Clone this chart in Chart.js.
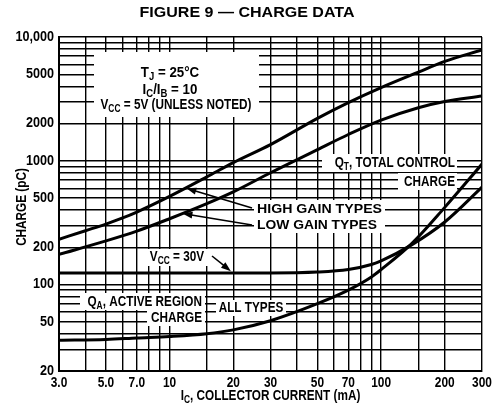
<!DOCTYPE html>
<html>
<head>
<meta charset="utf-8">
<script src="https://cdn.jsdelivr.net/npm/chart.js@4.4.0/dist/chart.umd.min.js"></script>
<style>
  html, body { margin: 0; padding: 0; background: #fff; }
  canvas { display: block; }
</style>
</head>
<body>
<canvas id="chart" width="494" height="415"></canvas>
<script>
// collector current (mA) and charge (pC)
const highGainCurrent = [3, 4, 5, 6, 7, 10, 15, 20, 30, 50, 70, 100, 150, 200, 300];
const highGainCharge  = [232, 272, 308, 345, 385, 515, 740, 965, 1350, 2200, 2950, 3900, 5200, 6350, 7850];
const lowGainCurrent  = [3, 5, 7, 10, 15, 20, 30, 50, 70, 100, 150, 200, 300];
const lowGainCharge   = [175, 225, 270, 340, 450, 560, 800, 1230, 1630, 2130, 2680, 3010, 3330];
const vcc30Current    = [3, 10, 20, 30, 50, 70, 90, 100, 140, 200, 300];
const vcc30Charge     = [124, 124, 124, 124, 126, 132, 145, 155, 210, 320, 612];
const activeCurrent   = [3, 5, 7, 10, 15, 20, 30, 50, 70, 90, 100, 140, 200, 300];
const activeCharge    = [35.5, 36, 37, 38, 40, 43, 51, 70, 90, 115, 132, 215, 420, 940];

const xTickValues = [3, 4, 5, 6, 7, 8, 9, 10, 15, 20, 30, 40, 50, 60, 70, 80, 90, 100, 150, 200, 300];
const xTickLabels = ['3.0', '', '5.0', '', '7.0', '', '', '10', '', '20', '30', '', '50', '', '70', '', '', '100', '', '200', '300'];
const yTickValues = [20, 30, 40, 50, 60, 70, 80, 90, 100, 200, 300, 400, 500, 600, 700, 800, 900,
                     1000, 2000, 3000, 4000, 5000, 6000, 7000, 8000, 9000, 10000];
const yTickLabels = ['20', '', '', '50', '', '', '', '', '100', '200', '', '', '500', '', '', '', '',
                     '1000', '2000', '', '', '5000', '', '', '', '', '10,000'];

const FONT = '"Liberation Sans", Arial, sans-serif';
const SQUEEZE = 0.84;

function pts(xs, ys) {
  return xs.map((x, i) => ({ x: x, y: ys[i] }));
}

function curve(xs, ys) {
  return {
    data: pts(xs, ys),
    borderColor: '#000',
    borderWidth: 3,
    pointRadius: 0,
    cubicInterpolationMode: 'monotone',
    fill: false
  };
}

// draw bold text made of [string, isSubscript] parts, squeezed/stretched to a width
function rich(ctx, parts, x, y, size, align, width, hs) {
  const subSize = Math.round(size * 0.72);
  let w = 0;
  parts.forEach(p => {
    ctx.font = 'bold ' + (p[1] ? subSize : size) + 'px ' + FONT;
    w += ctx.measureText(p[0]).width;
  });
  const k = width ? width / w : (hs || 1);
  const tw = w * k;
  const left = align === 'center' ? x - tw / 2 : (align === 'right' ? x - tw : x);
  ctx.save();
  ctx.translate(left, y);
  ctx.scale(k, 1);
  ctx.textAlign = 'left';
  ctx.textBaseline = 'middle';
  ctx.fillStyle = '#000';
  let cx = 0;
  parts.forEach(p => {
    ctx.font = 'bold ' + (p[1] ? subSize : size) + 'px ' + FONT;
    ctx.fillText(p[0], cx, p[1] ? size * 0.32 : 0);
    cx += ctx.measureText(p[0]).width;
  });
  ctx.restore();
}

function arrow(ctx, x1, y1, x2, y2) {
  const a = Math.atan2(y2 - y1, x2 - x1);
  const c = Math.cos(a), s = Math.sin(a);
  ctx.strokeStyle = '#000';
  ctx.fillStyle = '#000';
  ctx.lineWidth = 1.6;
  ctx.beginPath();
  ctx.moveTo(x1, y1);
  ctx.lineTo(x2 - 6 * c, y2 - 6 * s);
  ctx.stroke();
  ctx.beginPath();
  ctx.moveTo(x2, y2);
  ctx.lineTo(x2 - 10 * c + 3.5 * s, y2 - 10 * s - 3.5 * c);
  ctx.lineTo(x2 - 10 * c - 3.5 * s, y2 - 10 * s + 3.5 * c);
  ctx.closePath();
  ctx.fill();
}

// white patches where the printed labels break the grid
const labelBoxes = [
  [94, 52, 165, 65],
  [322, 154, 135, 18],
  [398, 173, 59, 17],
  [254, 200, 131, 33],
  [143, 249, 70, 17],
  [80, 293, 125, 17],
  [147, 310, 58, 16],
  [216, 300, 70, 16]
];

const annotations = {
  id: 'annotations',
  beforeDatasetsDraw(chart) {
    const ctx = chart.ctx;
    ctx.save();
    ctx.fillStyle = '#fff';
    labelBoxes.forEach(b => ctx.fillRect(b[0], b[1], b[2], b[3]));
    ctx.restore();
  },
  afterDatasetsDraw(chart) {
    const ctx = chart.ctx;
    const sx = chart.scales.x, sy = chart.scales.y;
    rich(ctx, [['T', 0], ['J', 1], [' = 25°C', 0]], 170, 73, 14, 'center', 0, 0.95);
    rich(ctx, [['I', 0], ['C', 1], ['/I', 0], ['B', 1], [' = 10', 0]], 170, 90, 14, 'center', 0, 0.95);
    rich(ctx, [['V', 0], ['CC', 1], [' = 5V (UNLESS NOTED)', 0]], 176, 105, 14, 'center', 0, SQUEEZE);

    rich(ctx, [['Q', 0], ['T', 1], [', TOTAL CONTROL', 0]], 455, 163, 14, 'right', 0, SQUEEZE);
    rich(ctx, [['CHARGE', 0]], 455, 182, 14, 'right', 0, SQUEEZE);

    rich(ctx, [['HIGH GAIN TYPES', 0]], 257, 209, 13, 'left', 125);
    rich(ctx, [['LOW GAIN TYPES', 0]], 257, 225, 13, 'left', 120);
    arrow(ctx, 252, 208, sx.getPixelForValue(12), sy.getPixelForValue(600));
    arrow(ctx, 252, 225, sx.getPixelForValue(11.5), sy.getPixelForValue(375));

    rich(ctx, [['V', 0], ['CC', 1], [' = 30V', 0]], 177, 257, 14, 'center', 0, SQUEEZE);
    arrow(ctx, 212, 256, sx.getPixelForValue(19.5), sy.getPixelForValue(128));

    rich(ctx, [['Q', 0], ['A', 1], [', ACTIVE REGION', 0]], 202, 302, 14, 'right', 0, SQUEEZE);
    rich(ctx, [['CHARGE', 0]], 202, 318, 14, 'right', 0, SQUEEZE);
    rich(ctx, [['ALL TYPES', 0]], 251, 308, 14, 'center', 0, SQUEEZE);
  },
  afterDraw(chart) {
    const ctx = chart.ctx;
    const area = chart.chartArea;
    const sx = chart.scales.x, sy = chart.scales.y;
    rich(ctx, [['FIGURE 9 \u2014 CHARGE DATA', 0]], 247, 13, 14, 'center', 215);

    xTickValues.forEach((v, i) => {
      if (xTickLabels[i]) rich(ctx, [[xTickLabels[i], 0]], sx.getPixelForValue(v), 383, 14, 'center', 0, 0.85);
    });
    yTickValues.forEach((v, i) => {
      if (yTickLabels[i]) rich(ctx, [[yTickLabels[i], 0]], 54, sy.getPixelForValue(v), 14, 'right', 0, 0.9);
    });

    rich(ctx, [['I', 0], ['C', 1], [', COLLECTOR CURRENT (mA)', 0]], (area.left + area.right) / 2, 396, 14, 'center', 0, SQUEEZE);
    ctx.save();
    ctx.translate(22, 207);
    ctx.rotate(-Math.PI / 2);
    rich(ctx, [['CHARGE (pC)', 0]], 0, 0, 14, 'center', 0, SQUEEZE);
    ctx.restore();
  }
};

new Chart(document.getElementById('chart'), {
  type: 'line',
  data: {
    datasets: [
      curve(highGainCurrent, highGainCharge),
      curve(lowGainCurrent, lowGainCharge),
      curve(vcc30Current, vcc30Charge),
      curve(activeCurrent, activeCharge)
    ]
  },
  options: {
    responsive: false,
    animation: false,
    layout: { padding: { left: 0, right: 12, top: 37, bottom: 0 } },
    plugins: { legend: { display: false }, tooltip: { enabled: false } },
    scales: {
      x: {
        type: 'logarithmic',
        min: 3,
        max: 300,
        afterBuildTicks: s => { s.ticks = xTickValues.map(v => ({ value: v })); },
        afterFit: s => { s.height = 44; },
        grid: { color: '#000', lineWidth: 1.4, drawTicks: false },
        border: { color: '#000', width: 2 },
        ticks: { display: false, autoSkip: false }
      },
      y: {
        type: 'logarithmic',
        min: 20,
        max: 10000,
        afterBuildTicks: s => { s.ticks = yTickValues.map(v => ({ value: v })); },
        afterFit: s => { s.width = 59; },
        grid: { color: '#000', lineWidth: 1.4, drawTicks: false },
        border: { color: '#000', width: 2 },
        ticks: { display: false, autoSkip: false }
      }
    }
  },
  plugins: [annotations]
});
</script>
</body>
</html>
